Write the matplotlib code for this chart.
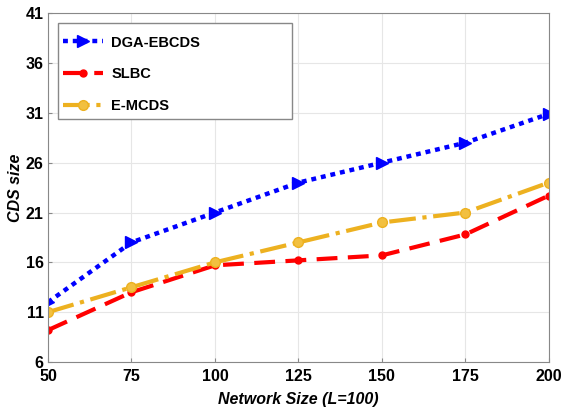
import matplotlib.pyplot as plt
from matplotlib.patches import Rectangle

plt.rcParams['font.family'] = ['Liberation Sans', 'DejaVu Sans']

network_size = [50, 75, 100, 125, 150, 175, 200]
dga_ebcds = [12, 18, 21, 24, 26, 28, 30.9]
slbc = [9.2, 13, 15.7, 16.2, 16.7, 18.8, 22.7]
e_mcds = [11, 13.5, 16, 18, 20, 21, 24]
y_ticks = [6, 11, 16, 21, 26, 31, 36, 41]

fig = plt.figure(figsize=(5.64, 4.08), dpi=100)
ax = fig.add_axes([0.0851, 0.1127, 0.888, 0.855])

ax.plot(network_size, dga_ebcds, color='blue', linestyle=':', linewidth=3.2,
        dashes=(1.1, 1.1), marker='>', markersize=8, label='DGA-EBCDS')
ax.plot(network_size, slbc, color='red', linestyle='--', linewidth=3,
        dashes=(5, 2.5), marker='o', markersize=5, label='SLBC')
ax.plot(network_size, e_mcds, color='#EDB120', linestyle='-.', linewidth=3,
        marker='o', markersize=7, markerfacecolor='#F2C040', label='E-MCDS')

ax.set_xlim(50, 200)
ax.set_ylim(6, 41)
ax.set_xticks(network_size)
ax.set_yticks(y_ticks)
ax.tick_params(labelsize=11.5, direction='in', length=3, color='#888888')
ax.tick_params(axis='x', pad=5)
ax.tick_params(axis='y', pad=3)
for lbl in ax.get_xticklabels() + ax.get_yticklabels():
    lbl.set_fontweight('bold')
ax.grid(True, color='#e6e6e6', linewidth=0.8)
for s in ax.spines.values():
    s.set_color('#888888')

ax.set_xlabel('Network Size (L=100)', fontsize=11.5, fontweight='bold', style='italic', labelpad=6)
ax.set_ylabel('CDS size', fontsize=11.5, fontweight='bold', style='italic', labelpad=2)

# legend box drawn separately so it can be wider than the entries
ax.add_patch(Rectangle((0.02, 0.696), 0.467, 0.275, transform=ax.transAxes,
                       facecolor='white', edgecolor='#888888', linewidth=1, zorder=4))
leg = ax.legend(loc='upper left', prop={'weight': 'bold', 'size': 10.5},
                handlelength=2.75, handletextpad=0.55, labelspacing=1.22,
                borderpad=0, borderaxespad=0, frameon=False,
                bbox_to_anchor=(0.03, 0.936))
leg.set_zorder(5)

fig.savefig('out.png', dpi=100)
